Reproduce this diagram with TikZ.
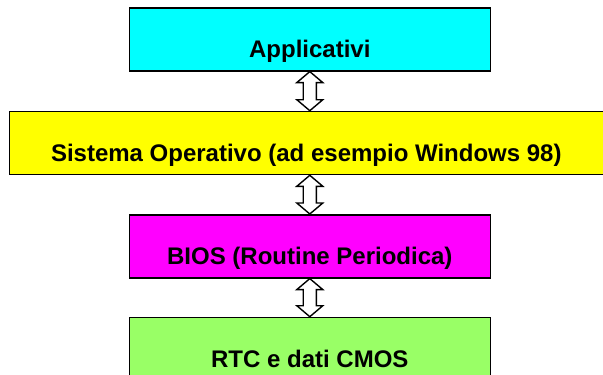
\documentclass[tikz,border=0pt]{standalone}
\usepackage{fontspec}
\setmainfont{Liberation Sans}
\usetikzlibrary{calc}
\definecolor{cCyan}{RGB}{0,255,255}
\definecolor{cYellow}{RGB}{255,255,0}
\definecolor{cMagenta}{RGB}{255,0,255}
\definecolor{cGreen}{RGB}{153,255,102}
\tikzset{
  layerbox/.style={draw=black, line width=1.6pt, anchor=north west, inner xsep=0pt, inner ysep=0pt,
    text height=49.5pt, text depth=13.5pt, font=\fontsize{24}{28}\selectfont\bfseries},
  dblarr/.style={draw=black, fill=white, line width=1.4pt, line join=miter,
    to path={let \p1=(\tikztostart), \p2=(\tikztotarget) in
      (\x1,\y1) -- (\x1+13pt,\y1-11pt) -- (\x1+6.6pt,\y1-11pt) -- (\x1+6.6pt,\y2+11pt)
      -- (\x1+13pt,\y2+11pt) -- (\x1,\y2) -- (\x1-13pt,\y2+11pt) -- (\x1-6.6pt,\y2+11pt)
      -- (\x1-6.6pt,\y1-11pt) -- (\x1-13pt,\y1-11pt) -- cycle}}
}
\begin{document}
\begin{tikzpicture}[x=1pt,y=-1pt]
\useasboundingbox (0,0) rectangle (603,375);
\clip (0,0) rectangle (603,375);
\node[layerbox, fill=cCyan, minimum width=361pt] (app) at (128.5,7) {Applicativi};
\node[layerbox, fill=cYellow, minimum width=594pt] (os) at (8.5,110.7) {Sistema Operativo (ad esempio Windows 98)};
\node[layerbox, fill=cMagenta, minimum width=361pt] (bios) at (128.5,214) {BIOS (Routine Periodica)};
\node[layerbox, fill=cGreen, minimum width=361pt] (rtc) at (128.5,316.7) {RTC e dati CMOS};
\draw[dblarr] (app.south) to (app.south |- os.north);
\draw[dblarr] (app.south |- os.south) to (bios.north);
\draw[dblarr] (bios.south) to (rtc.north);
\end{tikzpicture}
\end{document}
